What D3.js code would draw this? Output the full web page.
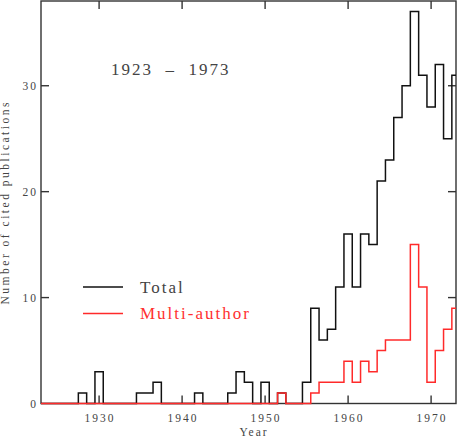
<!DOCTYPE html>
<html>
<head>
    <meta charset="UTF-8">
    <script src="https://d3js.org/d3.v7.min.js"></script>
    <style>
     body { margin: 0; background: #fff; }
     text { font-family: "Liberation Serif", serif; fill: #444; }
    </style>
</head>

<body>
    <div id="chart"></div>
    <script>
     // Citations per year, one bin per year
     const years = d3.range(1923, 1974);
     const total = [0, 0, 0, 0, 0, 1, 0, 3, 0, 0,
                    0, 0, 1, 1, 2, 0, 0, 0, 0, 1,
                    0, 0, 0, 1, 3, 2, 0, 2, 0, 1,
                    0, 0, 2, 9, 6, 7, 11, 16, 11, 16,
                    15, 21, 23, 27, 30, 37, 31, 28, 32, 25,
                    31];
     const multi = [0, 0, 0, 0, 0, 0, 0, 0, 0, 0,
                    0, 0, 0, 0, 0, 0, 0, 0, 0, 0,
                    0, 0, 0, 0, 0, 0, 0, 0, 0, 1,
                    0, 0, 0, 1, 2, 2, 2, 4, 2, 4,
                    3, 5, 6, 6, 6, 15, 11, 2, 5, 7,
                    9];
     const xTicks = [1930, 1940, 1950, 1960, 1970];
     const yTicks = [10, 20, 30];
     const yLabels = [0, 10, 20, 30];
     const seriesNames = ["Total", "Multi-author"];
     const seriesColors = ["#111", "#ff2a2a"];

     const W = 457, H = 438;
     const m = {left: 41, right: 1, top: 1, bottom: 34.5};

     let svg = d3.select("#chart").append("svg")
                 .attr("width", W)
                 .attr("height", H);

     let x = d3.scaleLinear()
               .domain([1923, 1973])
               .range([m.left, W - m.right]);
     let y = d3.scaleLinear()
               .domain([0, 38])
               .range([H - m.bottom, m.top]);

     svg.append("clipPath").attr("id", "plot")
        .append("rect")
        .attr("x", x(1923)).attr("y", y(38) - 2)
        .attr("width", x(1973) - x(1923)).attr("height", y(0) - y(38) + 4);

     // frame
     svg.append("rect")
        .attr("x", x(1923)).attr("y", y(38))
        .attr("width", x(1973) - x(1923))
        .attr("height", y(0) - y(38))
        .attr("fill", "none")
        .attr("stroke", "#333")
        .attr("stroke-width", 1.4);

     // inward ticks on all four sides
     const tl = 8;
     let ticks = svg.append("g").attr("stroke", "#333").attr("stroke-width", 1.4);
     ticks.selectAll("line.xb").data(xTicks).enter().append("line")
          .attr("x1", d => x(d)).attr("x2", d => x(d))
          .attr("y1", y(0)).attr("y2", y(0) - tl);
     ticks.selectAll("line.xt").data(xTicks).enter().append("line")
          .attr("x1", d => x(d)).attr("x2", d => x(d))
          .attr("y1", y(38)).attr("y2", y(38) + tl);
     ticks.selectAll("line.yl").data(yTicks).enter().append("line")
          .attr("x1", x(1923)).attr("x2", x(1923) + tl)
          .attr("y1", d => y(d)).attr("y2", d => y(d));
     ticks.selectAll("line.yr").data(yTicks).enter().append("line")
          .attr("x1", x(1973)).attr("x2", x(1973) - tl)
          .attr("y1", d => y(d)).attr("y2", d => y(d));

     // tick labels
     svg.selectAll("text.xl").data(xTicks).enter().append("text")
        .attr("x", d => x(d) + 1)
        .attr("y", 422)
        .attr("text-anchor", "middle")
        .style("font-size", "11.5px")
        .style("letter-spacing", "2px")
        .text(d => d);
     svg.selectAll("text.yl").data(yLabels).enter().append("text")
        .attr("x", 38)
        .attr("y", d => y(d) + 4)
        .attr("text-anchor", "end")
        .style("font-size", "11.5px")
        .style("letter-spacing", "2px")
        .text(d => d);

     svg.append("text")
        .attr("x", 254).attr("y", 436)
        .attr("text-anchor", "middle")
        .style("font-size", "11.5px")
        .style("letter-spacing", "2px")
        .text("Year");
     svg.append("text")
        .attr("transform", `translate(9,${(y(0) + y(38)) / 2}) rotate(-90)`)
        .attr("text-anchor", "middle")
        .style("font-size", "11.5px")
        .style("letter-spacing", "2.5px")
        .text("Number of cited publications");

     svg.append("text")
        .attr("x", 111).attr("y", 75)
        .style("font-size", "17px")
        .style("letter-spacing", "2px")
        .style("white-space", "pre")
        .text("1923  \u2013  1973");

     // step histograms
     let line = d3.line()
                  .x(d => x(d[0]))
                  .y(d => y(d[1]))
                  .curve(d3.curveStep);
     [total, multi].forEach(function(vals, i) {
         svg.append("path")
            .datum(years.map((yr, k) => [yr, vals[k]]))
            .attr("clip-path", "url(#plot)")
            .attr("fill", "none")
            .attr("stroke", seriesColors[i])
            .attr("stroke-width", 1.5)
            .attr("d", line);
     });

     // legend
     let legend = svg.selectAll("g.legend").data(seriesNames).enter()
                     .append("g").attr("class", "legend")
                     .attr("transform", (d, i) => `translate(0,${287 + i * 26.5})`);
     legend.append("line")
           .attr("x1", 83).attr("x2", 123)
           .attr("stroke", (d, i) => seriesColors[i])
           .attr("stroke-width", 1.5);
     legend.append("text")
           .attr("x", 140).attr("y", 5.5)
           .style("font-size", "17px")
           .style("letter-spacing", "2px")
           .style("fill", (d, i) => i == 0 ? "#444" : "#ff3030")
           .text(d => d);
    </script>
</body>

</html>
